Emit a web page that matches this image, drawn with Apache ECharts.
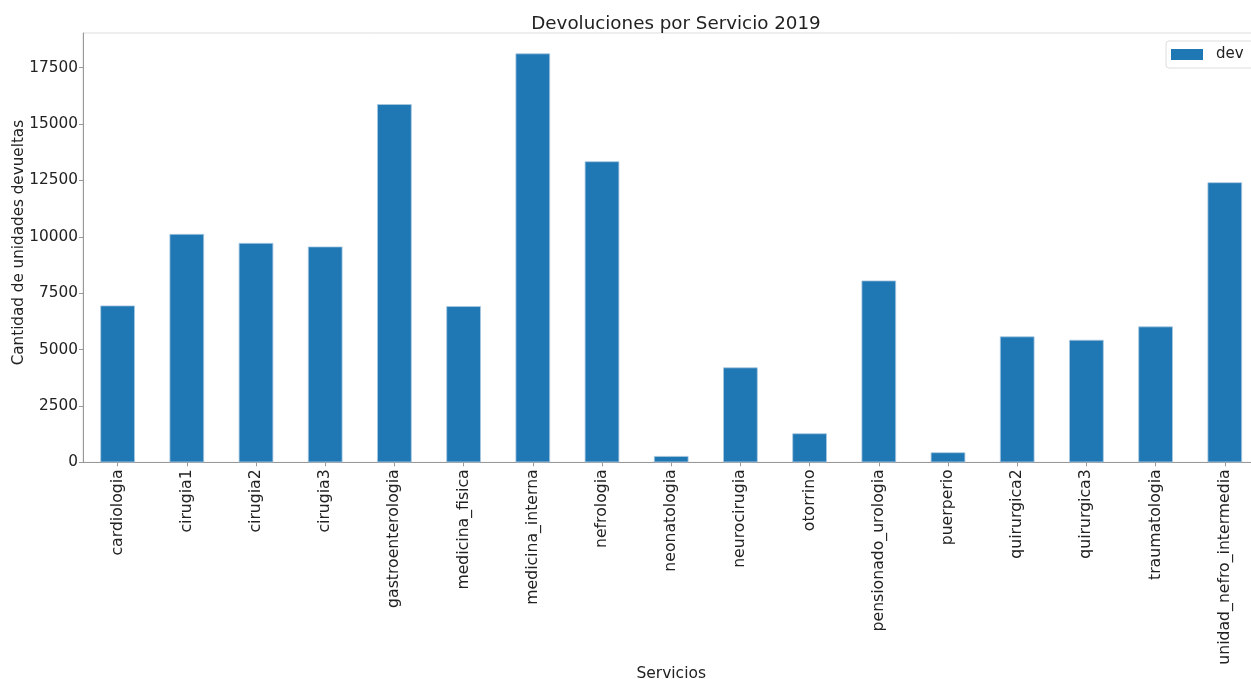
<!DOCTYPE html>
<html>
<head>
<meta charset="utf-8">
<script src="https://cdn.jsdelivr.net/npm/echarts@6/dist/echarts.min.js"></script>
<style>html,body{margin:0;padding:0;background:#fff;}#c{width:1251px;height:679px;}</style>
</head>
<body>
<div id="c"></div>
<script>
const categories = ["cardiologia","cirugia1","cirugia2","cirugia3","gastroenterologia","medicina_fisica","medicina_interna","nefrologia","neonatologia","neurocirugia","otorrino","pensionado_urologia","puerperio","quirurgica2","quirurgica3","traumatologia","unidad_nefro_intermedia"];
const devValues = [6955, 10128, 9729, 9570, 15887, 6925, 18133, 13349, 279, 4209, 1285, 8063, 443, 5582, 5432, 6025, 12418];
const yTicks = [0, 2500, 5000, 7500, 10000, 12500, 15000, 17500];

const FONT = "'DejaVu Sans'";
const chart = echarts.init(document.getElementById('c'), null, {renderer: 'canvas'});
const yMax = Math.max(...devValues) * 1.05;
chart.setOption({
  animation: false,
  backgroundColor: '#fff',
  title: {
    text: 'Devoluciones por Servicio 2019',
    left: 671, top: 10, textAlign: 'center',
    textStyle: {fontFamily: FONT, fontSize: 18.3, fontWeight: 'normal', color: '#222'}
  },
  legend: {
    data: ['dev'],
    left: 1166, top: 41,
    icon: 'rect', itemWidth: 32, itemHeight: 11,
    padding: [6, 10, 6, 5],
    borderColor: '#ddd', borderWidth: 1, borderRadius: 3,
    backgroundColor: '#fff',
    itemStyle: {borderWidth: 0},
    textStyle: {fontFamily: FONT, fontSize: 15, color: '#222', padding: [0, 0, 0, 8]}
  },
  grid: {
    left: 83, top: 33, width: 1176.4, height: 429.3,
    containLabel: false, outerBoundsMode: 'none',
    show: true, borderColor: '#dddddd', borderWidth: 1, backgroundColor: 'transparent'
  },
  xAxis: {
    type: 'category', data: categories,
    name: 'Servicios', nameLocation: 'middle', nameGap: 204, nameMoveOverlap: false,
    nameTextStyle: {fontFamily: FONT, fontSize: 15.5, color: '#222'},
    axisLine: {lineStyle: {color: '#999', width: 1}},
    axisTick: {show: true, alignWithLabel: true, length: 4, lineStyle: {color: '#999'}},
    axisLabel: {rotate: 90, fontFamily: FONT, fontSize: 15.7, color: '#222', margin: 7, interval: 0},
    splitLine: {show: false}
  },
  yAxis: {
    type: 'value', min: 0, max: yMax,
    name: 'Cantidad de unidades devueltas', nameLocation: 'middle', nameGap: 56, nameMoveOverlap: false,
    nameTextStyle: {fontFamily: FONT, fontSize: 15.2, color: '#222', padding: [0, 0, 0, 10]},
    axisLine: {show: true, lineStyle: {color: '#999', width: 1}},
    axisTick: {show: true, length: 4, lineStyle: {color: '#999'}, customValues: yTicks},
    axisLabel: {fontFamily: FONT, fontSize: 15.3, color: '#222', margin: 5, customValues: yTicks,
      formatter: function (v) { return String(v); }},
    splitLine: {show: false}
  },
  series: [{
    name: 'dev', type: 'bar', data: devValues,
    barWidth: '50%',
    itemStyle: {color: '#1f77b4', borderColor: '#a9c8e0', borderWidth: 0.8}
  }]
});
</script>
</body>
</html>
